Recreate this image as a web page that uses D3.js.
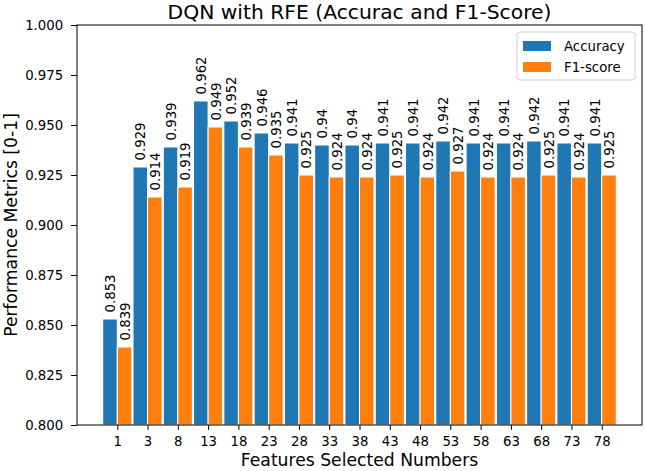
<!DOCTYPE html>
<html><head><meta charset="utf-8">
<script src="https://cdn.jsdelivr.net/npm/d3@7"></script>
<style>body{margin:0;background:#fff}text{font-family:"DejaVu Sans",sans-serif}</style>
</head><body><svg id="c" width="645" height="471"></svg>
<script>
const categories = ["1","3","8","13","18","23","28","33","38","43","48","53","58","63","68","73","78"];
const accuracy = [0.853,0.929,0.939,0.962,0.952,0.946,0.941,0.94,0.94,0.941,0.941,0.942,0.941,0.941,0.942,0.941,0.941];
const f1score = [0.839,0.914,0.919,0.949,0.939,0.935,0.925,0.924,0.924,0.925,0.924,0.927,0.924,0.924,0.925,0.924,0.925];
const seriesNames = ["Accuracy","F1-score"];
const yTicks = [0.800,0.825,0.850,0.875,0.900,0.925,0.950,0.975,1.000];

const svg = d3.select("#c");
const L=77, R=642, T=25, B=425;
const bw = 0.48;
const x = d3.scaleLinear().domain([-1.33, categories.length - 1 + 1.33]).range([L, R]);
const y = d3.scaleLinear().domain([0.8, 1.0]).range([B, T]);
const colors = ["#1f77b4", "#ff7f0e"];
const series = [accuracy, f1score];

const g = svg.append("g");
series.forEach((vals, si) => {
  g.selectAll(".b"+si).data(vals).enter().append("rect")
    .attr("x", (d,i) => x(i + (si===0 ? -bw : 0)))
    .attr("width", x(bw) - x(0))
    .attr("y", d => y(d))
    .attr("height", d => B - y(d))
    .attr("fill", colors[si])
    .attr("stroke", "#fff").attr("stroke-width", 1);
  g.selectAll(".t"+si).data(vals).enter().append("text")
    .attr("transform", (d,i) => `translate(${x(i + (si===0 ? -bw/2 : bw/2)) + 5.2},${y(d) - 6.5}) rotate(-90)`)
    .attr("font-size", 13.3).attr("fill", "#000")
    .text(d => String(d));
});

// spines
svg.append("rect").attr("x", L).attr("y", T).attr("width", R-L).attr("height", B-T)
  .attr("fill", "none").attr("stroke", "#000").attr("stroke-width", 1);

// x axis
const xa = svg.append("g").attr("transform", `translate(0,${B})`)
  .call(d3.axisBottom(x).tickValues(d3.range(categories.length)).tickFormat(i => categories[i]).tickSize(4.9).tickPadding(6.8));
xa.select(".domain").remove();
xa.selectAll("text").attr("font-size", 13.3).attr("fill", "#000").style("font-family", "DejaVu Sans");
// y axis
const ya = svg.append("g").attr("transform", `translate(${L},0)`)
  .call(d3.axisLeft(y).tickValues(yTicks).tickFormat(d3.format(".3f")).tickSize(6).tickPadding(7.8));
ya.select(".domain").remove();
ya.selectAll("text").attr("font-size", 13.3).attr("fill", "#000").style("font-family", "DejaVu Sans");

// title & labels
svg.append("text").attr("x", (L+R)/2).attr("y", 18.5).attr("text-anchor", "middle")
  .attr("font-size", 20.3).text("DQN with RFE (Accurac and F1-Score)");
svg.append("text").attr("x", (L+R)/2).attr("y", 466).attr("text-anchor", "middle")
  .attr("font-size", 17.2).text("Features Selected Numbers");
svg.append("text").attr("transform", `translate(17,${(T+B)/2}) rotate(-90)`).attr("text-anchor", "middle")
  .attr("font-size", 17.2).text("Performance Metrics [0-1]");

// legend
const lg = svg.append("g");
lg.append("rect").attr("x", 517).attr("y", 32).attr("width", 118).attr("height", 48).attr("rx", 3)
  .attr("fill", "#fff").attr("fill-opacity", 0.8).attr("stroke", "#ccc");
seriesNames.forEach((n, i) => {
  lg.append("rect").attr("x", 523).attr("y", 41 + i*21).attr("width", 28).attr("height", 10).attr("fill", colors[i]);
  lg.append("text").attr("x", 564).attr("y", 51 + i*21).attr("font-size", 13.3).text(n);
});
</script></body></html>
